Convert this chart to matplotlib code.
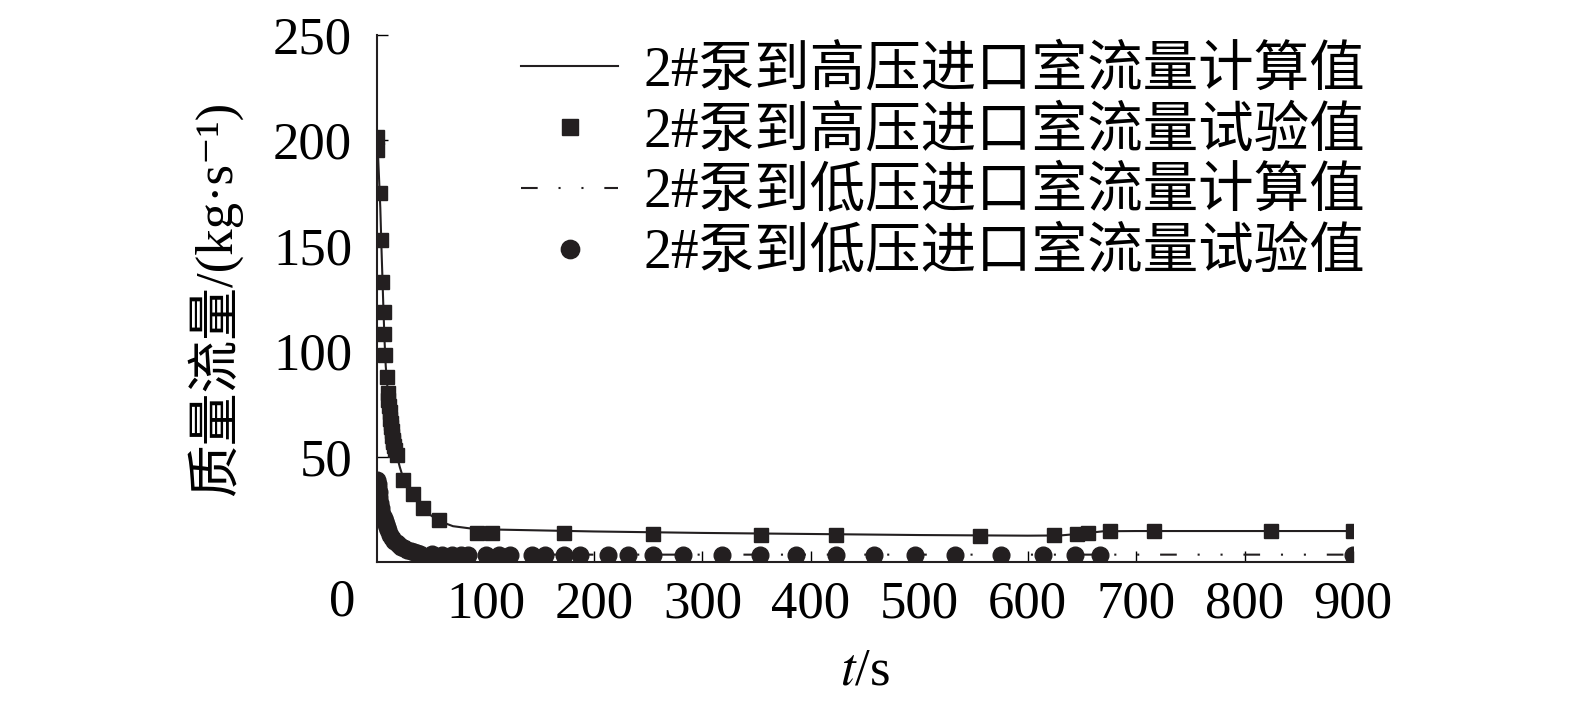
import numpy as np
import matplotlib
matplotlib.use('Agg')
import matplotlib.pyplot as plt

plt.rcParams['font.family'] = ['Liberation Serif', 'Noto Sans CJK SC', 'DejaVu Serif']
plt.rcParams['mathtext.fontset'] = 'stix'

# 2# pump -> high pressure inlet chamber, calculated
t_hi_calc = [0, 1, 2, 3, 4, 5, 6, 7, 8, 10, 12, 14, 16, 18, 21, 24, 28, 33, 38, 42,
             50, 57, 70, 85, 100, 150, 200, 300, 400, 500, 600, 630, 650, 670, 700, 800, 900]
v_hi_calc = [201, 192, 180, 168, 150, 134, 118, 104, 93, 80, 68, 60, 55, 51, 45, 40, 36, 32, 28, 25.5,
             22, 19.5, 17, 16, 15.5, 15, 14.5, 13.8, 13.3, 12.8, 12.5, 12.6, 13.5, 14.6, 14.7, 14.7, 14.7]

# 2# pump -> high pressure inlet chamber, test
t_hi_test = [0, 0.3, 3, 4, 5, 6, 6.5, 7.3, 9, 10, 10.5, 11, 11.5, 12, 12.5, 13, 13.5, 14, 14.5,
             15, 16, 17, 18, 24, 33, 42, 57, 92, 106, 172, 254, 354, 423, 556, 624, 645, 656, 676,
             716, 824, 900]
v_hi_test = [201.5, 195.5, 175, 153, 133, 118.5, 108, 98, 88, 80, 77, 74, 71, 68, 66, 64, 62, 60, 58,
             57, 55, 53, 51, 39, 32.5, 25.5, 20, 13.8, 13.8, 13.8, 13.3, 12.8, 12.8, 12.3, 12.8, 13.3, 14,
             14.7, 14.7, 14.5, 14.5]

# 2# pump -> low pressure inlet chamber, calculated
t_lo_calc = [0, 2, 5, 10, 15, 20, 30, 40, 60, 80, 100, 200, 300, 400, 500, 600, 700, 800, 900]
v_lo_calc = [39, 31, 23, 15, 10.5, 8, 5.5, 4.2, 3.6, 3.5, 3.5, 3.5, 3.5, 3.5, 3.5, 3.5, 3.5, 3.5, 3.5]

# 2# pump -> low pressure inlet chamber, test
t_lo_test = [0, 0.5, 1, 1.5, 2, 3, 4, 5, 6, 7, 8, 9, 10, 12, 14, 16, 18, 20, 22, 25, 28, 31, 34,
             37, 40, 51, 60, 69, 77, 84, 100, 112, 123, 143, 155, 172, 187, 213, 231, 254, 282,
             318, 353, 386, 423, 458, 496, 533, 575, 614, 644, 667, 900]
v_lo_test = [39, 37, 35, 33, 31, 28, 25.5, 23, 21, 19.5, 18, 16.5, 15, 13, 11.5, 10, 9, 8, 7.2,
             6.5, 5.8, 5.2, 4.7, 4.2, 3.8, 3.6, 3.5, 3.5, 3.5, 3.5, 3.5, 3.5, 3.5, 3.5, 3.5, 3.5,
             3.5, 3.5, 3.5, 3.5, 3.5, 3.5, 3.5, 3.5, 3.5, 3.5, 3.5, 3.5, 3.5, 3.5, 3.5, 3.5, 3.5]

labels = ['2#泵到高压进口室流量计算值', '2#泵到高压进口室流量试验值',
          '2#泵到低压进口室流量计算值', '2#泵到低压进口室流量试验值']

fig = plt.figure(figsize=(15.75, 7.09), dpi=100)
ax = fig.add_axes([0.2394, 0.2073, 0.6197, 0.7433])

ax.plot(t_hi_calc, v_hi_calc, color='#231f20', lw=1.5, label=labels[0])
ax.plot(t_hi_test, v_hi_test, ls='none', marker='s', ms=10, color='#231f20', label=labels[1])
ax.plot(t_lo_calc, v_lo_calc, color='#231f20', lw=1.5, dashes=(8, 10, 1, 10, 1, 10), label=labels[2])
ax.plot(t_lo_test, v_lo_test, ls='none', marker='o', ms=12, color='#231f20', label=labels[3])

ax.set_xlim(0, 900)
ax.set_ylim(0, 250)
ax.set_xticks(range(100, 1000, 100))
ax.set_yticks([50, 100, 150, 200, 250])
ax.tick_params(direction='in', length=8, width=1, labelsize=38)
ax.tick_params(axis='y', pad=18)
ax.tick_params(axis='x', pad=13)
ax.spines['top'].set_visible(False)
ax.spines['right'].set_visible(False)
for s in ['left', 'bottom']:
    ax.spines[s].set_linewidth(1.5)
    ax.spines[s].set_color('#231f20')
ax.text(-32, -8, '0', fontsize=38, ha='center', va='top', transform=ax.transData)

ax.set_xlabel('$t$/s', fontsize=38, labelpad=14)
ax.set_ylabel('质量流量/(kg·s⁻¹)', fontsize=38, labelpad=22)

ax.legend(loc='upper right', bbox_to_anchor=(1.012, 0.98), frameon=False, fontsize=40,
          handlelength=1.75, handletextpad=0.45, labelspacing=0.16, borderaxespad=0,
          borderpad=0, markerscale=1.1)

fig.savefig('out.png', dpi=100)
